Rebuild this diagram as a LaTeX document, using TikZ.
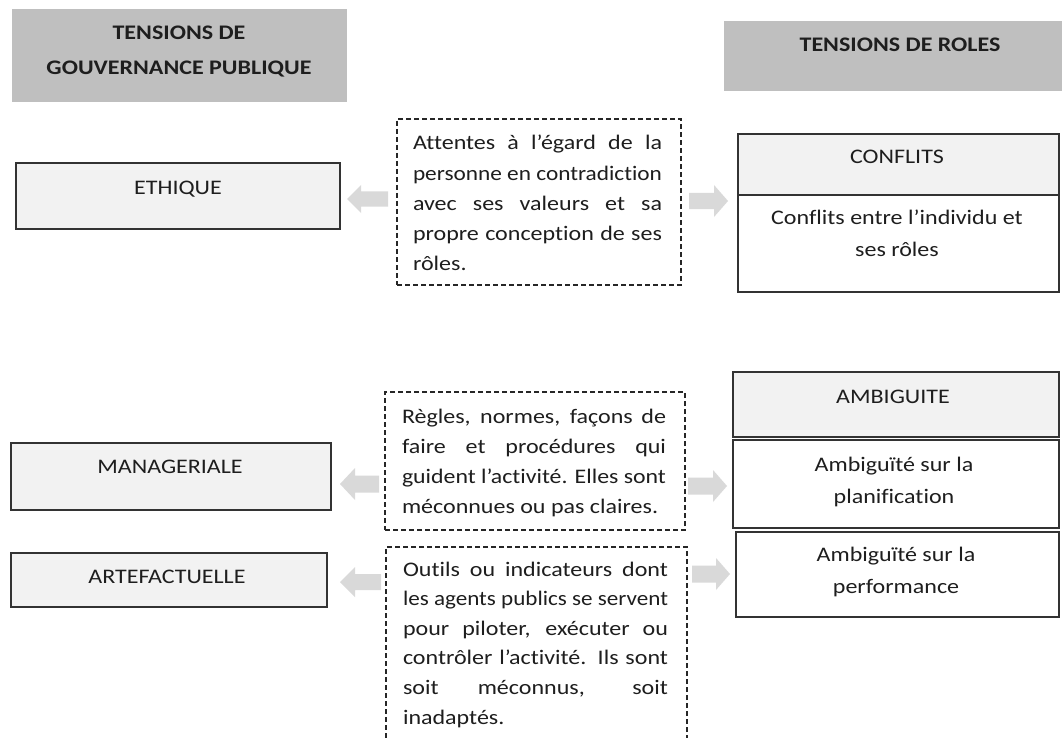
\documentclass[tikz,border=0pt]{standalone}
\usepackage{graphicx}
\usepackage{fontspec}
\setmainfont{Carlito}[FakeStretch=1.16,Ligatures=CommonOff]
\definecolor{hdrgray}{HTML}{BFBFBF}
\definecolor{boxfill}{HTML}{F2F2F2}
\definecolor{boxline}{HTML}{333333}
\definecolor{txtcol}{HTML}{1E1E1E}
\definecolor{arrfill}{HTML}{D9D9D9}
\newcommand\blockarr[6]{% tip, head base, tail, cy, half head, half shaft
  \fill[arrfill] (#1,#4) -- (#2,{#4-#5}) -- (#2,{#4-#6}) -- (#3,{#4-#6}) -- (#3,{#4+#6}) -- (#2,{#4+#6}) -- (#2,{#4+#5}) -- cycle;}
\newsavebox\jlbox
\newcommand\jl[2]{\sbox\jlbox{#2}\ifdim\wd\jlbox>#1\relax\resizebox{#1}{\height}{\usebox\jlbox}\else\makebox[#1][s]{#2}\fi}
\begin{document}
\begin{tikzpicture}[x=1pt,y=-1pt,
  hdr/.style={fill=hdrgray, draw=none, inner sep=0, outer sep=0, anchor=north west},
  gbox/.style={fill=boxfill, draw=boxline, line width=1.4pt, inner sep=0, outer sep=0, anchor=north west},
  wbox/.style={fill=white, draw=boxline, line width=1.4pt, inner sep=0, outer sep=0, anchor=north west},
  dbox/.style={draw=black!85, dash pattern=on 5pt off 3pt, line width=1.2pt, inner sep=0, outer sep=0, anchor=north west},
  txt/.style={inner sep=0, outer sep=0, text=txtcol, font=\fontsize{20.7}{30}\selectfont, anchor=base},
  ltxt/.style={txt, anchor=base west},
  btxt/.style={txt, font=\fontsize{20.7}{30}\selectfont\bfseries}]
\useasboundingbox (0,0) rectangle (1062,738);
\clip (0,0) rectangle (1062,738);
\fill[white] (0,0) rectangle (1062,738);

% headers
\node[hdr, minimum width=335, minimum height=93] (hL) at (12,9) {};
\node[btxt] (hL1) at (179,40) {TENSIONS DE};
\node[btxt] (hL2) at (179,75) {GOUVERNANCE PUBLIQUE};
\node[hdr, minimum width=338, minimum height=70] (hR) at (724,21) {};
\node[btxt] (hR1) at (900,52) {TENSIONS DE ROLES};

% left boxes
\node[gbox, minimum width=324, minimum height=66] (eth) at (16,163) {};
\node[txt] (ethT) at (178,194) {ETHIQUE};
\node[gbox, minimum width=320, minimum height=67] (man) at (11,443) {};
\node[txt] (manT) at (170,473) {MANAGERIALE};
\node[gbox, minimum width=316, minimum height=54] (art) at (11,553) {};
\node[txt] (artT) at (167,583) {ARTEFACTUELLE};

% right boxes
\node[wbox, minimum width=321, minimum height=158] (conf) at (738,134) {};
\fill[boxfill] (739,135) rectangle (1058,195);
\draw[boxline, line width=1.4pt] (738,134) rectangle (1059,292);
\draw[boxline, line width=1.2pt] (738,195) -- (1059,195);
\node[txt] (confT) at (897,164) {CONFLITS};
\node[txt] (confA) at (897,224) {Conflits entre l’individu et};
\node[txt] (confB) at (897,256) {ses rôles};

\node[gbox, minimum width=326, minimum height=65] (amb) at (733,372) {};
\node[txt] (ambT) at (893,403) {AMBIGUITE};
\node[wbox, minimum width=326, minimum height=88] (plan) at (733,440) {};
\node[txt] (planA) at (894,471) {Ambiguïté sur la};
\node[txt] (planB) at (894,503) {planification};
\node[wbox, minimum width=323, minimum height=85] (perf) at (736,532) {};
\node[txt] (perfA) at (896,561) {Ambiguïté sur la};
\node[txt] (perfB) at (896,593) {performance};

% dashed boxes
\node[dbox, minimum width=284, minimum height=166] (d1) at (397,119) {};
\node[ltxt] (d1a) at (413,150) {\jl{249pt}{Attentes à l’égard de la}};
\node[ltxt] (d1b) at (413,180) {\jl{249pt}{personne en contradiction}};
\node[ltxt] (d1c) at (413,210) {\jl{249pt}{avec ses valeurs et sa}};
\node[ltxt] (d1d) at (413,240) {\jl{249pt}{propre conception de ses}};
\node[ltxt] (d1e) at (413,270) {rôles.};

\node[dbox, minimum width=300, minimum height=138] (d2) at (385,392) {};
\node[ltxt] (d2a) at (402,423) {\jl{264pt}{Règles, normes, façons de}};
\node[ltxt] (d2b) at (402,453) {\jl{264pt}{faire et procédures qui}};
\node[ltxt] (d2c) at (402,483) {\jl{264pt}{guident l’activité. Elles sont}};
\node[ltxt] (d2d) at (402,513) {méconnues ou pas claires.};

\node[dbox, minimum width=301, minimum height=220] (d3) at (386,547) {};
\node[ltxt] (d3a) at (403,576) {\jl{265pt}{Outils ou indicateurs dont}};
\node[ltxt] (d3b) at (403,605.6) {\jl{265pt}{les agents publics se servent}};
\node[ltxt] (d3c) at (403,635.2) {\jl{265pt}{pour piloter, exécuter ou}};
\node[ltxt] (d3d) at (403,664.8) {\jl{265pt}{contrôler l’activité. Ils sont}};
\node[ltxt] (d3e) at (403,694.4) {\jl{265pt}{soit méconnus, soit}};
\node[ltxt] (d3f) at (403,724) {inadaptés.};

% block arrows
\blockarr{347}{361}{388}{199}{14}{7.5}
\blockarr{728}{714}{689}{201}{16}{8}
\blockarr{340}{355}{379}{484}{16}{8.5}
\blockarr{340}{355}{381}{582}{15}{8}
\blockarr{727}{713}{688}{486}{16}{8.5}
\blockarr{730}{716}{692}{574}{16}{8.5}
\end{tikzpicture}
\end{document}
